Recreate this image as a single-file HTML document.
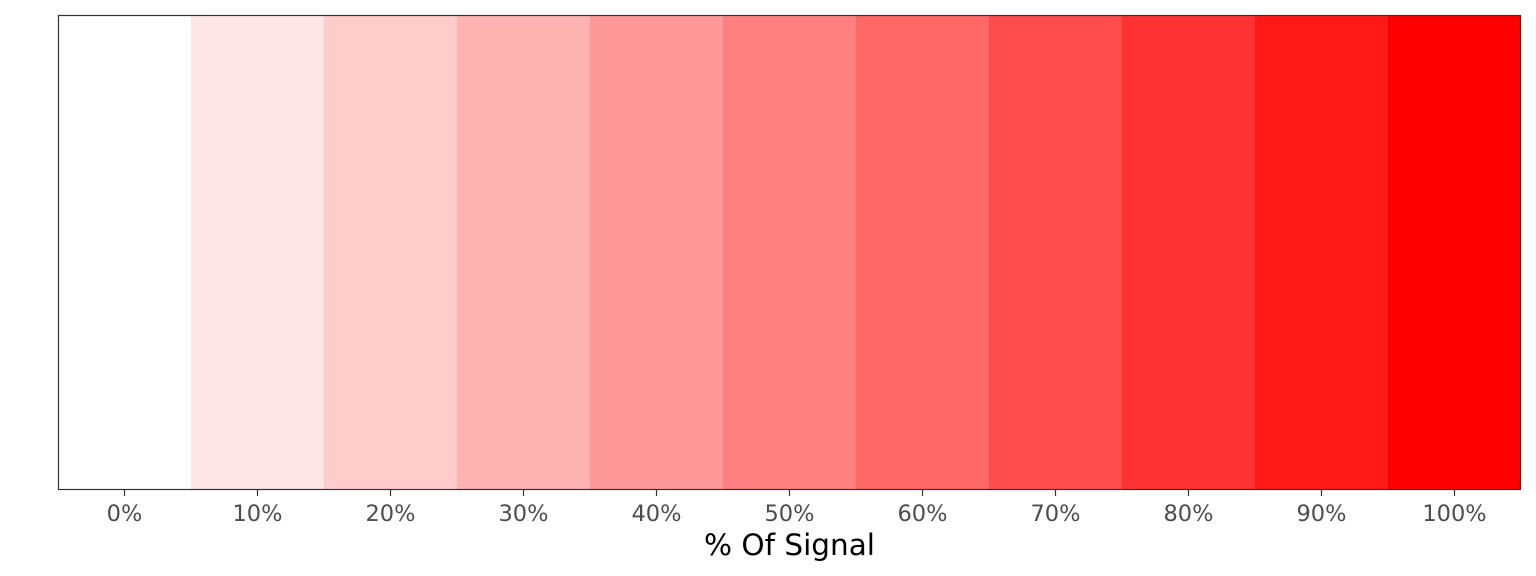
<!DOCTYPE html>
<html><head><meta charset="utf-8"><style>
html,body{margin:0;padding:0;background:#fff;}
svg{display:block;font-family:"DejaVu Sans","Liberation Sans",sans-serif;}
</style></head><body>
<svg id="chart" width="1536" height="576"></svg>
<script>
const categories = [0,10,20,30,40,50,60,70,80,90,100];
const signalValues = [0,10,20,30,40,50,60,70,80,90,100];
const tickLabels = ["0%","10%","20%","30%","40%","50%","60%","70%","80%","90%","100%"];

const NS = "http://www.w3.org/2000/svg";
const svg = document.getElementById("chart");
const L = 58, R = 1521, T = 15, B = 490;
const xMin = -5, xMax = 105;
function x(v){ return L + (v - xMin) / (xMax - xMin) * (R - L); }
function fill(v){ const c = Math.round(255 * (1 - v/100)); return `rgb(255,${c},${c})`; }
function mk(tag, attrs){ const e = document.createElementNS(NS, tag); for (const k in attrs) e.setAttribute(k, attrs[k]); svg.appendChild(e); return e; }

categories.forEach((c, i) => {
  const r = mk("rect", {x: x(c-5), y: T, width: x(c+5)-x(c-5), height: B-T, fill: fill(signalValues[i])});
  
  
});
const frame = mk("rect", {x: L+0.5, y: T+0.5, width: R-L-1, height: B-T-1, fill: "none", stroke: "#333", "stroke-width": 1.2});



categories.forEach((c, i) => {
  const t = mk("line", {x1: x(c), x2: x(c), y1: B, y2: B+6, stroke: "#333", "stroke-width": 1.2});
  
  
  const lb = mk("text", {x: x(c), y: 521, "text-anchor": "middle", "font-size": 22.5, fill: "#4d4d4d"});
  lb.textContent = tickLabels[i];
  
  
});
const title = mk("text", {x: (L+R)/2, y: 555, "text-anchor": "middle", "font-size": 29.5, fill: "#000"});
title.textContent = "% Of Signal";


</script>
</body></html>
